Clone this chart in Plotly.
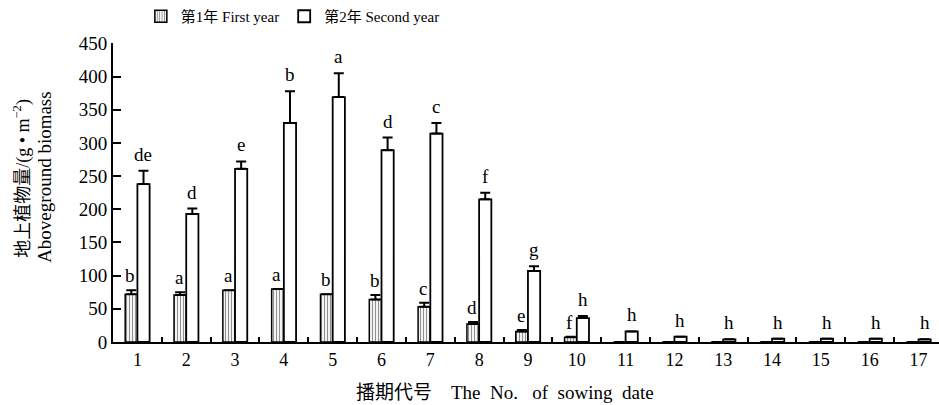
import plotly.graph_objects as go

# Sowing-date numbers
dates = [str(i) for i in range(1, 18)]

# Aboveground biomass (g/m2), first and second year
year1 = [72, 71, 78, 80, 72, 64, 53, 27, 16, 7, 0, 0, 0, 0, 0, 0, 0]
year2 = [238, 193, 261, 330, 369, 289, 314, 215, 107, 36, 16, 8, 4, 5, 5, 5, 4]

# Upper error (standard error); None where no bar is drawn
err1 = [6, 4, None, None, None, 7, 6, 3, 2, 1, None, None, None, None, None, None, None]
err2 = [20, 8, 11, 48, 36, 19, 16, 10, 7, 3, None, None, None, None, None, None, None]

# Significance letters
sig1 = ["b", "a", "a", "a", "b", "b", "c", "d", "e", "f", "", "", "", "", "", "", ""]
sig2 = ["de", "d", "e", "b", "a", "d", "c", "f", "g", "h", "h", "h", "h", "h", "h", "h", "h"]

SERIF = '"Liberation Serif", "Times New Roman", "Noto Sans CJK SC", serif'

# plot-area geometry in pixels, used to place paper-referenced titles
L, T, B, W, H = 113, 40, 63, 939, 405
PW, PH = W - L, H - T - B


def upper(err):
    return [e if e is not None else float("nan") for e in err]


fig = go.Figure()
fig.add_trace(go.Bar(
    x=dates, y=year1, name="第1年 First year",
    marker=dict(color="white", line=dict(color="black", width=1.5),
                pattern=dict(shape="|", fgcolor="#222", bgcolor="white",
                             size=3, solidity=0.4)),
    error_y=dict(type="data", array=upper(err1), arrayminus=[0] * 17,
                 symmetric=False, color="black", thickness=2, width=5),
))
fig.add_trace(go.Bar(
    x=dates, y=year2, name="第2年 Second year",
    marker=dict(color="white", line=dict(color="black", width=1.8)),
    error_y=dict(type="data", array=upper(err2), arrayminus=[0] * 17,
                 symmetric=False, color="black", thickness=2, width=5),
))

# Letters above each bar (above the error cap where there is one);
# x is the category index so numeric-looking labels are not misread
annotations = []
for i, (v, e, s) in enumerate(zip(year1, err1, sig1)):
    if s:
        annotations.append(dict(x=i, y=v + (e or 0), text=s, showarrow=False,
                                xshift=-7, yshift=2, yanchor="bottom",
                                font=dict(family=SERIF, size=19, color="black")))
for i, (v, e, s) in enumerate(zip(year2, err2, sig2)):
    if s:
        annotations.append(dict(x=i, y=v + (e or 0), text=s, showarrow=False,
                                xshift=6, yshift=4, yanchor="bottom",
                                font=dict(family=SERIF, size=19, color="black")))

# Two-line y-axis title
annotations.append(dict(xref="paper", yref="paper", x=(22 - L) / PW, y=(H - B - 177) / PH,
                        xanchor="center", yanchor="middle",
                        text="地上植物量/(g • m<sup>−2</sup>)", showarrow=False,
                        textangle=-90, font=dict(family=SERIF, size=18, color="black")))
annotations.append(dict(xref="paper", yref="paper", x=(45 - L) / PW, y=(H - B - 175) / PH,
                        xanchor="center", yanchor="middle",
                        text="Aboveground biomass", showarrow=False,
                        textangle=-90, font=dict(family=SERIF, size=19, color="black")))
# x-axis title
annotations.append(dict(xref="paper", yref="paper", x=(505 - L) / PW, y=(H - B - 393) / PH,
                        xanchor="center", yanchor="middle",
                        text="播期代号    The  No.   of  sowing  date", showarrow=False,
                        font=dict(family=SERIF, size=19, color="black")))

fig.update_layout(
    width=W, height=H, autosize=False,
    margin=dict(l=L, r=0, t=T, b=B),
    paper_bgcolor="white", plot_bgcolor="white",
    barmode="group", bargap=0.5, bargroupgap=0.0,
    font=dict(family=SERIF, color="black"),
    showlegend=True,
    legend=dict(orientation="h", xref="container", yref="container",
                x=0.150, y=1.0, xanchor="left", yanchor="top",
                font=dict(family=SERIF, size=15, color="black"),
                bgcolor="rgba(0,0,0,0)"),
    annotations=annotations,
)
fig.update_xaxes(type="category", range=[-0.5, 16.42], tickson="boundaries",
                 ticks="inside", ticklen=5,
                 tickwidth=1.5, tickcolor="black", showline=True, linecolor="black",
                 linewidth=2, showgrid=False, zeroline=False,
                 tickfont=dict(family=SERIF, size=18, color="black"))
fig.update_yaxes(range=[0, 450], dtick=50, ticks="inside", ticklen=8, tickwidth=2,
                 tickcolor="black", showline=True, linecolor="black", linewidth=2,
                 showgrid=False, zeroline=False,
                 tickfont=dict(family=SERIF, size=19, color="black"))

fig.write_html("out.html")
